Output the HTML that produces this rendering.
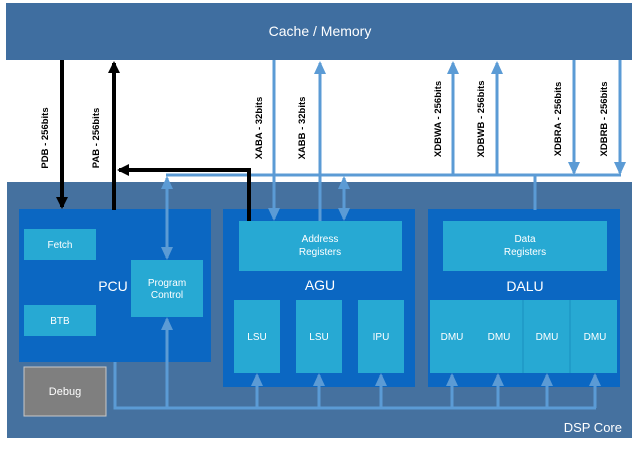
<!DOCTYPE html>
<html><head><meta charset="utf-8"><style>
html,body{margin:0;padding:0;background:#fff;}
svg{display:block;}
text{font-family:"Liberation Sans",sans-serif;fill:#fff;}
.s{font-size:9.5px;fill:#000;font-weight:bold;}
</style></head><body>
<svg width="640" height="449" viewBox="0 0 640 449" xmlns="http://www.w3.org/2000/svg">
<defs>
<marker id="ak" markerWidth="12" markerHeight="12" refX="10" refY="6" orient="auto" markerUnits="userSpaceOnUse"><path d="M0,0 L12,6 L0,12 z" fill="#000"/></marker>
<marker id="abl" markerWidth="13" markerHeight="12" refX="11" refY="6" orient="auto" markerUnits="userSpaceOnUse"><path d="M0,0 L13,6 L0,12 z" fill="#5b9bd5"/></marker>
</defs>
<rect x="6" y="3" width="626" height="57" fill="#3f6ea0"/>
<text x="320" y="36" font-size="14" text-anchor="middle">Cache / Memory</text>
<rect x="7" y="182" width="625" height="256" fill="#45719f"/>
<text x="622" y="432" font-size="13" text-anchor="end">DSP Core</text>
<rect x="19" y="209" width="192" height="153" fill="#0b67c2"/>
<rect x="24" y="229" width="72" height="31" fill="#27a9d3"/>
<text x="60" y="248" font-size="10" text-anchor="middle">Fetch</text>
<rect x="24" y="305" width="72" height="31" fill="#27a9d3"/>
<text x="60" y="324" font-size="10" text-anchor="middle">BTB</text>
<text x="113" y="291" font-size="14" text-anchor="middle">PCU</text>
<rect x="131" y="260" width="72" height="57" fill="#27a9d3"/>
<text x="167" y="286" font-size="10" text-anchor="middle">Program</text>
<text x="167" y="298" font-size="10" text-anchor="middle">Control</text>
<rect x="24" y="367" width="82" height="49" fill="#7f7f7f" stroke="#c8c8c8" stroke-width="1"/>
<text x="65" y="395" font-size="11" text-anchor="middle">Debug</text>
<rect x="223" y="209" width="192" height="178" fill="#0b67c2"/>
<rect x="239" y="221" width="163" height="50" fill="#27a9d3"/>
<text x="320" y="242" font-size="10" text-anchor="middle">Address</text>
<text x="320" y="255" font-size="10" text-anchor="middle">Registers</text>
<text x="320" y="290" font-size="14" text-anchor="middle">AGU</text>
<rect x="234" y="300" width="46" height="73" fill="#27a9d3"/>
<rect x="296" y="300" width="46" height="73" fill="#27a9d3"/>
<rect x="358" y="300" width="46" height="73" fill="#27a9d3"/>
<text x="257" y="340" font-size="10" text-anchor="middle">LSU</text>
<text x="319" y="340" font-size="10" text-anchor="middle">LSU</text>
<text x="381" y="340" font-size="10" text-anchor="middle">IPU</text>
<rect x="428" y="209" width="192" height="178" fill="#0b67c2"/>
<rect x="443" y="221" width="164" height="50" fill="#27a9d3"/>
<text x="525" y="242" font-size="10" text-anchor="middle">Data</text>
<text x="525" y="255" font-size="10" text-anchor="middle">Registers</text>
<text x="525" y="291" font-size="14" text-anchor="middle">DALU</text>
<rect x="430" y="300" width="187" height="73" fill="#27a9d3"/>
<line x1="523" y1="300" x2="523" y2="373" stroke="#1a8fbf" stroke-width="1"/>
<line x1="570" y1="300" x2="570" y2="373" stroke="#1a8fbf" stroke-width="1"/>
<text x="452" y="340" font-size="10" text-anchor="middle">DMU</text>
<text x="499" y="340" font-size="10" text-anchor="middle">DMU</text>
<text x="547" y="340" font-size="10" text-anchor="middle">DMU</text>
<text x="595" y="340" font-size="10" text-anchor="middle">DMU</text>
<g stroke="#5b9bd5" stroke-width="3" fill="none">
<polyline points="115,362 115,408 596,408"/>
<line x1="167" y1="408" x2="167" y2="319" marker-end="url(#abl)"/>
<line x1="257" y1="408" x2="257" y2="375" marker-end="url(#abl)"/>
<line x1="319" y1="408" x2="319" y2="375" marker-end="url(#abl)"/>
<line x1="381" y1="408" x2="381" y2="375" marker-end="url(#abl)"/>
<line x1="452" y1="408" x2="452" y2="375" marker-end="url(#abl)"/>
<line x1="498" y1="408" x2="498" y2="375" marker-end="url(#abl)"/>
<line x1="547" y1="408" x2="547" y2="375" marker-end="url(#abl)"/>
<line x1="595" y1="408" x2="595" y2="375" marker-end="url(#abl)"/>
</g>
<g stroke="#5b9bd5" stroke-width="3" fill="none">
<line x1="166" y1="175" x2="621" y2="175"/>
<line x1="167" y1="190" x2="167" y2="258" marker-end="url(#abl)"/>
<line x1="167" y1="200" x2="167" y2="178" marker-end="url(#abl)"/>
<line x1="274" y1="60" x2="274" y2="219" marker-end="url(#abl)"/>
<line x1="320" y1="221" x2="320" y2="63" marker-end="url(#abl)"/>
<line x1="344" y1="195" x2="344" y2="219" marker-end="url(#abl)"/>
<line x1="344" y1="200" x2="344" y2="178" marker-end="url(#abl)"/>
<line x1="453" y1="175" x2="453" y2="63" marker-end="url(#abl)"/>
<line x1="497" y1="175" x2="497" y2="63" marker-end="url(#abl)"/>
<line x1="574" y1="60" x2="574" y2="173" marker-end="url(#abl)"/>
<line x1="620" y1="60" x2="620" y2="173" marker-end="url(#abl)"/>
<line x1="535" y1="175" x2="535" y2="210"/>
</g>
<g stroke="#000" stroke-width="4" fill="none">
<line x1="62" y1="60" x2="62" y2="207" marker-end="url(#ak)"/>
<line x1="114" y1="210" x2="114" y2="63" marker-end="url(#ak)"/>
<polyline points="249,221 249,170 119,170" marker-end="url(#ak)"/>
</g>
<text class="s" transform="translate(48,138) rotate(-90)" text-anchor="middle">PDB - 256bits</text>
<text class="s" transform="translate(99,138) rotate(-90)" text-anchor="middle">PAB - 256bits</text>
<text class="s" transform="translate(262,128) rotate(-90)" text-anchor="middle">XABA - 32bits</text>
<text class="s" transform="translate(305,128) rotate(-90)" text-anchor="middle">XABB - 32bits</text>
<text class="s" transform="translate(441,119) rotate(-90)" text-anchor="middle">XDBWA - 256bits</text>
<text class="s" transform="translate(484,119) rotate(-90)" text-anchor="middle">XDBWB - 256bits</text>
<text class="s" transform="translate(561,119) rotate(-90)" text-anchor="middle">XDBRA - 256bits</text>
<text class="s" transform="translate(607,119) rotate(-90)" text-anchor="middle">XDBRB - 256bits</text>
</svg>
</body></html>
